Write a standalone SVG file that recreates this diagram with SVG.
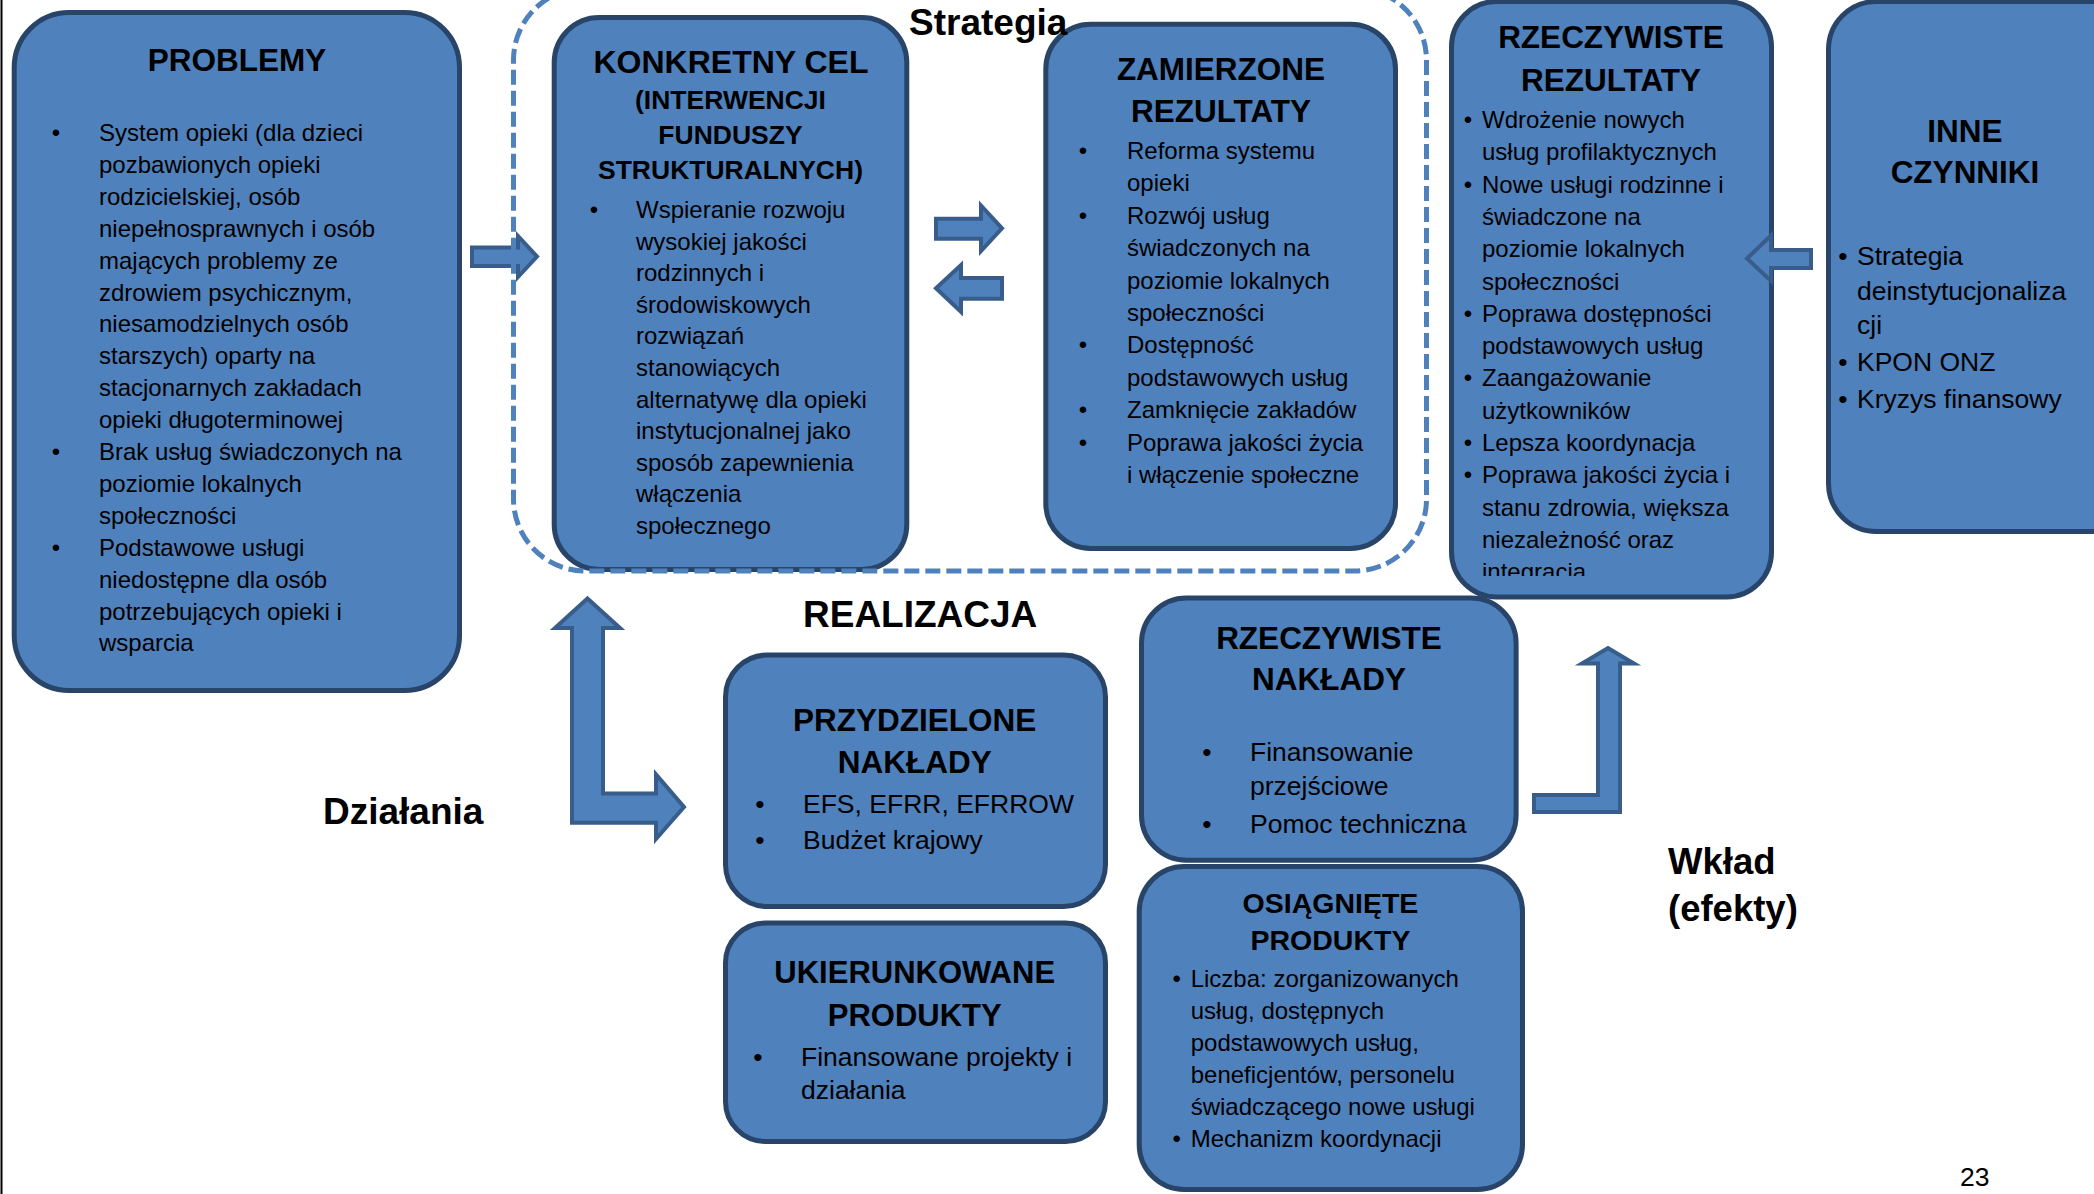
<svg xmlns="http://www.w3.org/2000/svg" width="2094" height="1194" viewBox="0 0 2094 1194">
<defs>
<style>
.box{fill:#4F81BD;stroke:#284468;stroke-width:5}
.arrow{fill:#4F81BD;stroke:#385D8A;stroke-width:4;stroke-linejoin:miter}
.frame{fill:none;stroke:#4F81BD;stroke-width:5;stroke-dasharray:15 6}
text{font-family:"Liberation Sans",Arial,sans-serif;fill:#000}
.h{font-weight:bold;font-size:31.5px;text-anchor:middle}
.h2{font-weight:bold;font-size:26.5px;text-anchor:middle}
.b24{font-size:24px}
.b26{font-size:26.5px}
.bul{text-anchor:middle}
.lbl{font-weight:bold;font-size:37px}
</style>
<clipPath id="clipRR"><rect x="1440" y="0" width="340" height="576"/></clipPath>
</defs>
<rect width="2094" height="1194" fill="#FFFFFF"/>
<line x1="1.5" y1="0" x2="1.5" y2="1194" stroke="#000" stroke-width="2"/>

<g id="problemy">
<rect class="box" x="14.2" y="12.5" width="445.3" height="678" rx="55"/>
<text class="h" x="237" y="71.4">PROBLEMY</text>
<text class="b24 bul"><tspan x="56" y="141">•</tspan><tspan x="56" y="460">•</tspan><tspan x="56" y="555.7">•</tspan></text>
<text class="b24">
<tspan x="99" y="141">System opieki (dla dzieci</tspan>
<tspan x="99" y="172.9">pozbawionych opieki</tspan>
<tspan x="99" y="204.8">rodzicielskiej, osób</tspan>
<tspan x="99" y="236.7">niepełnosprawnych i osób</tspan>
<tspan x="99" y="268.6">mających problemy ze</tspan>
<tspan x="99" y="300.5">zdrowiem psychicznym,</tspan>
<tspan x="99" y="332.4">niesamodzielnych osób</tspan>
<tspan x="99" y="364.3">starszych) oparty na</tspan>
<tspan x="99" y="396.2">stacjonarnych zakładach</tspan>
<tspan x="99" y="428.1">opieki długoterminowej</tspan>
<tspan x="99" y="460">Brak usług świadczonych na</tspan>
<tspan x="99" y="491.9">poziomie lokalnych</tspan>
<tspan x="99" y="523.8">społeczności</tspan>
<tspan x="99" y="555.7">Podstawowe usługi</tspan>
<tspan x="99" y="587.6">niedostępne dla osób</tspan>
<tspan x="99" y="619.5">potrzebujących opieki i</tspan>
<tspan x="99" y="651.4">wsparcia</tspan>
</text>
</g>

<g id="konkretny-cel">
<rect class="box" x="554.2" y="17.5" width="352.6" height="552" rx="45"/>
<text class="h" x="731" y="73" style="font-size:32px">KONKRETNY CEL</text>
<text class="h2"><tspan x="730.5" y="109">(INTERWENCJI</tspan><tspan x="730.5" y="144">FUNDUSZY</tspan><tspan x="730.5" y="179">STRUKTURALNYCH)</tspan></text>
<text class="b24 bul" x="594" y="218">•</text>
<text class="b24">
<tspan x="636" y="218">Wspieranie rozwoju</tspan>
<tspan x="636" y="249.6">wysokiej jakości</tspan>
<tspan x="636" y="281.2">rodzinnych i</tspan>
<tspan x="636" y="312.8">środowiskowych</tspan>
<tspan x="636" y="344.4">rozwiązań</tspan>
<tspan x="636" y="376">stanowiących</tspan>
<tspan x="636" y="407.6">alternatywę dla opieki</tspan>
<tspan x="636" y="439.2">instytucjonalnej jako</tspan>
<tspan x="636" y="470.8">sposób zapewnienia</tspan>
<tspan x="636" y="502.4">włączenia</tspan>
<tspan x="636" y="534">społecznego</tspan>
</text>
</g>

<g id="zamierzone-rezultaty">
<rect class="box" x="1045.8" y="24.2" width="349.7" height="524.3" rx="45"/>
<text class="h"><tspan x="1221" y="79.5">ZAMIERZONE</tspan><tspan x="1221" y="122">REZULTATY</tspan></text>
<text class="b24 bul"><tspan x="1083" y="159">•</tspan><tspan x="1083" y="223.8">•</tspan><tspan x="1083" y="353.4">•</tspan><tspan x="1083" y="418.2">•</tspan><tspan x="1083" y="450.6">•</tspan></text>
<text class="b24">
<tspan x="1127" y="159">Reforma systemu</tspan>
<tspan x="1127" y="191.4">opieki</tspan>
<tspan x="1127" y="223.8">Rozwój usług</tspan>
<tspan x="1127" y="256.2">świadczonych na</tspan>
<tspan x="1127" y="288.6">poziomie lokalnych</tspan>
<tspan x="1127" y="321">społeczności</tspan>
<tspan x="1127" y="353.4">Dostępność</tspan>
<tspan x="1127" y="385.8">podstawowych usług</tspan>
<tspan x="1127" y="418.2">Zamknięcie zakładów</tspan>
<tspan x="1127" y="450.6">Poprawa jakości życia</tspan>
<tspan x="1127" y="483">i włączenie społeczne</tspan>
</text>
</g>

<g id="rzeczywiste-rezultaty">
<rect class="box" x="1451.5" y="1.5" width="320" height="595.5" rx="45"/>
<text class="h"><tspan x="1611" y="48">RZECZYWISTE</tspan><tspan x="1611" y="91">REZULTATY</tspan></text>
<g clip-path="url(#clipRR)">
<text class="b24 bul"><tspan x="1468" y="128">•</tspan><tspan x="1468" y="192.6">•</tspan><tspan x="1468" y="321.8">•</tspan><tspan x="1468" y="386.4">•</tspan><tspan x="1468" y="451">•</tspan><tspan x="1468" y="483.3">•</tspan></text>
<text class="b24">
<tspan x="1482" y="128">Wdrożenie nowych</tspan>
<tspan x="1482" y="160.3">usług profilaktycznych</tspan>
<tspan x="1482" y="192.6">Nowe usługi rodzinne i</tspan>
<tspan x="1482" y="224.9">świadczone na</tspan>
<tspan x="1482" y="257.2">poziomie lokalnych</tspan>
<tspan x="1482" y="289.5">społeczności</tspan>
<tspan x="1482" y="321.8">Poprawa dostępności</tspan>
<tspan x="1482" y="354.1">podstawowych usług</tspan>
<tspan x="1482" y="386.4">Zaangażowanie</tspan>
<tspan x="1482" y="418.7">użytkowników</tspan>
<tspan x="1482" y="451">Lepsza koordynacja</tspan>
<tspan x="1482" y="483.3">Poprawa jakości życia i</tspan>
<tspan x="1482" y="515.6">stanu zdrowia, większa</tspan>
<tspan x="1482" y="547.9">niezależność oraz</tspan>
<tspan x="1482" y="580.2">integracja</tspan>
</text>
</g>
</g>

<g id="inne-czynniki">
<rect class="box" x="1828.5" y="1.5" width="320" height="530" rx="48"/>
<text class="h"><tspan x="1965" y="141.6">INNE</tspan><tspan x="1965" y="183">CZYNNIKI</tspan></text>
<text class="b26 bul"><tspan x="1843" y="265">•</tspan><tspan x="1843" y="371">•</tspan><tspan x="1843" y="408">•</tspan></text>
<text class="b26">
<tspan x="1857" y="265">Strategia</tspan>
<tspan x="1857" y="299.5">deinstytucjonaliza</tspan>
<tspan x="1857" y="334">cji</tspan>
<tspan x="1857" y="371">KPON ONZ</tspan>
<tspan x="1857" y="408">Kryzys finansowy</tspan>
</text>
</g>

<g id="przydzielone-naklady">
<rect class="box" x="725.5" y="655" width="380" height="251.5" rx="42"/>
<text class="h"><tspan x="914.7" y="730.7">PRZYDZIELONE</tspan><tspan x="914.7" y="772.6">NAKŁADY</tspan></text>
<text class="b26 bul"><tspan x="760" y="813">•</tspan><tspan x="760" y="849">•</tspan></text>
<text class="b26"><tspan x="803" y="813">EFS, EFRR, EFRROW</tspan><tspan x="803" y="849">Budżet krajowy</tspan></text>
</g>

<g id="ukierunkowane-produkty">
<rect class="box" x="725.5" y="923" width="380" height="218.5" rx="40"/>
<text class="h" style="font-size:31px"><tspan x="914.7" y="983">UKIERUNKOWANE</tspan><tspan x="914.7" y="1025.6">PRODUKTY</tspan></text>
<text class="b26 bul" x="758" y="1065.5">•</text>
<text class="b26"><tspan x="801" y="1065.5">Finansowane projekty i</tspan><tspan x="801" y="1098.8">działania</tspan></text>
</g>

<g id="rzeczywiste-naklady">
<rect class="box" x="1141.5" y="598" width="374.6" height="262.2" rx="45"/>
<text class="h"><tspan x="1329" y="648.5">RZECZYWISTE</tspan><tspan x="1329" y="689.6">NAKŁADY</tspan></text>
<text class="b26 bul"><tspan x="1207" y="761">•</tspan><tspan x="1207" y="832.5">•</tspan></text>
<text class="b26"><tspan x="1250" y="761">Finansowanie</tspan><tspan x="1250" y="794.6">przejściowe</tspan><tspan x="1250" y="832.5">Pomoc techniczna</tspan></text>
</g>

<g id="osiagniete-produkty">
<rect class="box" x="1139.2" y="866.5" width="383.3" height="323" rx="45"/>
<text class="h" style="font-size:28.5px"><tspan x="1330.5" y="912.8">OSIĄGNIĘTE</tspan><tspan x="1330.5" y="950">PRODUKTY</tspan></text>
<text class="b24 bul"><tspan x="1176.7" y="987">•</tspan><tspan x="1176.7" y="1146.7">•</tspan></text>
<text class="b24">
<tspan x="1190.7" y="987">Liczba: zorganizowanych</tspan>
<tspan x="1190.7" y="1019">usług, dostępnych</tspan>
<tspan x="1190.7" y="1051">podstawowych usług,</tspan>
<tspan x="1190.7" y="1082.7">beneficjentów, personelu</tspan>
<tspan x="1190.7" y="1114.5">świadczącego nowe usługi</tspan>
<tspan x="1190.7" y="1146.7">Mechanizm koordynacji</tspan>
</text>
</g>

<g id="connectors">
<polygon class="arrow" points="472,247.5 518,247.5 518,236 537,256.5 518,277 518,266 472,266"/>
<polygon class="arrow" points="936,218.7 981,218.7 981,205.5 1002,228.3 981,251 981,238.7 936,238.7"/>
<polygon class="arrow" points="1002,278 961,278 961,265 936,288.3 961,311.8 961,298.7 1002,298.7"/>
<polygon class="arrow" points="1811,250 1771,250 1771,235.5 1747,258.5 1771,281 1771,268 1811,268"/>
<polygon class="arrow" points="587.5,598.5 620,628 603,628 603,793.4 656,793.4 656,774.5 684,807 656,839 656,822.7 572,822.7 572,628 555,628"/>
<polygon class="arrow" points="1534,795 1598,795 1598,663.5 1582,663.5 1608,648 1634,663.5 1620,663.5 1620,812 1534,812"/>
</g>

<g id="strategia-frame">
<rect class="frame" x="513.5" y="-12" width="913" height="583" rx="72"/>
</g>

<g id="labels">
<text class="lbl" x="909" y="35">Strategia</text>
<text class="lbl" x="803" y="627">REALIZACJA</text>
<text class="lbl" x="323" y="824">Działania</text>
<text class="lbl" x="1668" y="874" style="font-size:36.5px">Wkład</text>
<text class="lbl" x="1668" y="921" style="font-size:36.5px">(efekty)</text>
<text x="1960" y="1186" style="font-size:26.5px">23</text>
</g>
</svg>
